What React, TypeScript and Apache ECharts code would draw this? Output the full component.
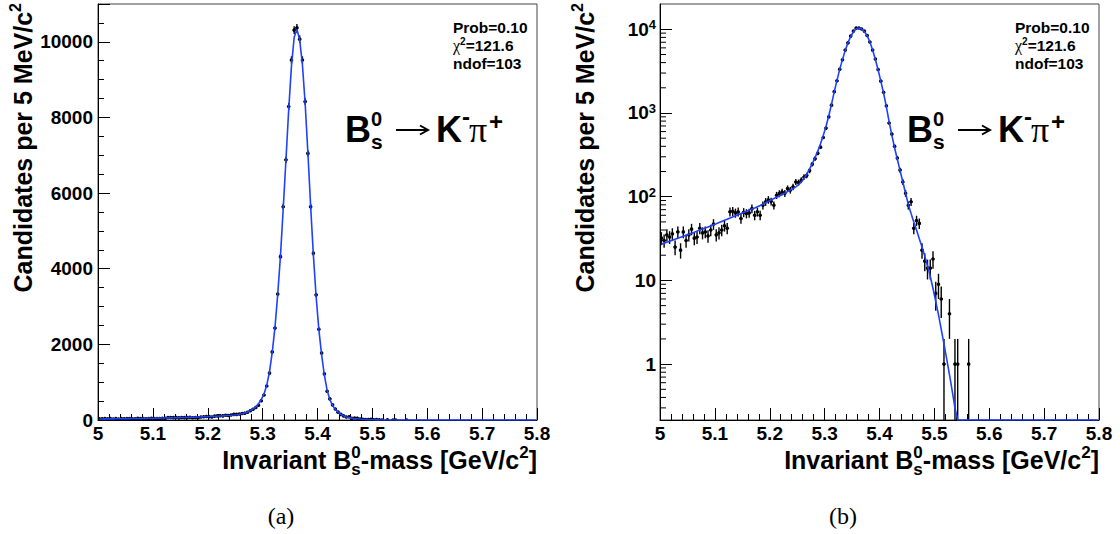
import React, { useEffect, useRef } from "react";
import * as echarts from "echarts";

// ---------- data ----------
const BIN_LOW = 5.0;
const BIN_WIDTH = 0.005;

// candidates per 5 MeV bin, 5.000 .. 5.800 GeV (160 bins)
const COUNTS = [
  32, 30, 35, 33, 36, 25, 38, 23, 38, 30,
  35, 41, 32, 33, 42, 37, 38, 34, 40, 47,
  35, 37, 40, 45, 42, 66, 67, 64, 66, 55,
  65, 63, 64, 72, 60, 66, 60, 79, 87, 92,
  88, 79, 104, 109, 114, 110, 125, 120, 131, 150,
  148, 158, 172, 180, 205, 245, 285, 330, 391, 510,
  660, 900, 1240, 1800, 2430, 3330, 4320, 5640, 6880, 8290,
  9520, 10310, 10370, 10070, 9520, 8420, 7050, 5640, 4410, 3310,
  2400, 1770, 1220, 760, 560, 400, 290, 208, 150, 110,
  79, 87, 42, 52, 48, 23, 17, 14, 14, 18,
  7, 9, 6, 1, 0, 4, 0, 1, 1, 0,
  0, 0, 1, 0, 0, 0, 0, 0, 0, 0,
  0, 0, 0, 0, 0, 0, 0, 0, 0, 0,
  0, 0, 0, 0, 0, 0, 0, 0, 0, 0,
  0, 0, 0, 0, 0, 0, 0, 0, 0, 0,
  0, 0, 0, 0, 0, 0, 0, 0, 0, 0,
];

// fitted function, read at the bin centres
const FIT = [
  27, 27.7, 28.5, 29.3, 30.1, 31, 31.9, 32.8, 33.7, 34.7,
  35.7, 36.7, 37.7, 38.8, 39.9, 41, 42.2, 43.4, 44.8, 46.2,
  47.6, 49.1, 50.7, 52.2, 53.8, 55.5, 57.3, 59.1, 61, 62.9,
  64.9, 66.9, 69, 71.1, 73.3, 75.8, 78.5, 81.5, 84.7, 88,
  91.4, 95, 98.5, 102, 106, 110, 115, 120, 125, 131,
  139, 150, 165, 186, 213, 248, 292, 350, 430, 540,
  690, 920, 1270, 1790, 2450, 3320, 4340, 5580, 6880, 8200,
  9350, 10120, 10330, 10060, 9400, 8370, 7060, 5660, 4360, 3260,
  2390, 1720, 1190, 790, 540, 385, 280, 205, 150, 110,
  81, 63, 50, 40, 31.5, 25, 19.5, 15, 11.2, 8,
  5.6, 3.9, 2.6, 1.75, 1.15, 0.75, 0.48, 0.3, 0.19, 0.12,
  0.07, 0.04, 0, 0, 0, 0, 0, 0, 0, 0,
  0, 0, 0, 0, 0, 0, 0, 0, 0, 0,
  0, 0, 0, 0, 0, 0, 0, 0, 0, 0,
  0, 0, 0, 0, 0, 0, 0, 0, 0, 0,
  0, 0, 0, 0, 0, 0, 0, 0, 0, 0,
];

const X_MIN = 5.0;
const X_MAX = 5.8;
const X_STEP = 0.1;
const LIN_Y_MAX = 11000;
const LIN_Y_STEP = 2000;
const LOG_Y_MIN = 0.215;
const LOG_Y_MAX = 20050;
const LOG_MINOR_TICKS = [
  0.3, 0.4, 0.5, 0.6, 0.7, 0.8, 0.9,
  2, 3, 4, 5, 6, 7, 8, 9,
  20, 30, 40, 50, 60, 70, 80, 90,
  200, 300, 400, 500, 600, 700, 800, 900,
  2000, 3000, 4000, 5000, 6000, 7000, 8000, 9000,
];
const FIT_STATS = ["Prob=0.10", "121.6", "ndof=103"];
const PANEL_TAGS = ["(a)", "(b)"];

// ---------- style ----------
const SANS = '"Liberation Sans", Arial, Helvetica, sans-serif';
const SERIF = '"Liberation Serif", "Times New Roman", serif';
const BLUE = "#1e40ff";
const PANEL_DX = 562;

type Seg = { t: string; size: number; weight?: string; family?: string; dy?: number; stack?: boolean };

let mctx: CanvasRenderingContext2D | null = null;
function measure(t: string, size: number, weight: string, family: string) {
  if (!mctx) mctx = document.createElement("canvas").getContext("2d");
  if (!mctx) return t.length * size * 0.6;
  mctx.font = `${weight} ${size}px ${family}`;
  return mctx.measureText(t).width;
}

function textEl(t: string, x: number, baseline: number, size: number, weight = "bold", family = SANS, align = "left") {
  return {
    type: "text",
    x,
    y: baseline - 0.345 * size,
    silent: true,
    style: { text: t, fontSize: size, fontWeight: weight, fontFamily: family, fill: "#000", align, verticalAlign: "middle" },
  };
}

function lineGroup(segs: Seg[], x: number, y: number, align: "left" | "right", rotation = 0) {
  const placed: { s: Seg; x: number }[] = [];
  let cursor = 0;
  let prevStart = 0;
  let prevW = 0;
  for (const s of segs) {
    const w = measure(s.t, s.size, s.weight || "bold", s.family || SANS);
    if (s.stack) {
      placed.push({ s, x: prevStart });
      prevW = Math.max(prevW, w);
      cursor = prevStart + prevW;
    } else {
      placed.push({ s, x: cursor });
      prevStart = cursor;
      prevW = w;
      cursor += w;
    }
  }
  const off = align === "right" ? -cursor : 0;
  return {
    type: "group",
    x,
    y,
    rotation,
    children: placed.map(({ s, x: px }) => textEl(s.t, px + off, s.dy || 0, s.size, s.weight || "bold", s.family || SANS)),
  };
}

function decayLabel(dx: number) {
  const els: any[] = [
    textEl("B", 345 + dx, 142, 36),
    textEl("s", 371 + dx, 149, 21),
    textEl("0", 371 + dx, 126, 20),
    textEl("K", 436 + dx, 142, 36),
    textEl("-", 462 + dx, 125, 24),
    textEl("\u03c0", 469 + dx, 142, 36, "normal", SERIF),
    textEl("+", 489 + dx, 130, 24),
    { type: "line", silent: true, shape: { x1: 396 + dx, y1: 130, x2: 427 + dx, y2: 130 }, style: { stroke: "#000", lineWidth: 2 } },
    { type: "polyline", silent: true, shape: { points: [[420 + dx, 125.5], [428 + dx, 130], [420 + dx, 134.5]] }, style: { stroke: "#000", lineWidth: 2, fill: null } },
  ];
  return els;
}

function statsBox(dx: number) {
  return [
    lineGroup([{ t: FIT_STATS[0], size: 15.5 }], 453 + dx, 33, "left"),
    lineGroup(
      [
        { t: "\u03c7", size: 16, weight: "normal", family: SERIF },
        { t: "2", size: 10, dy: -6 },
        { t: "=" + FIT_STATS[1], size: 15.5 },
      ],
      453 + dx,
      51,
      "left"
    ),
    lineGroup([{ t: FIT_STATS[2], size: 15.5 }], 453 + dx, 69, "left"),
  ];
}

function titles(dx: number, tag: string) {
  const yTitle = lineGroup(
    [
      { t: "Candidates per 5 MeV/c", size: 25 },
      { t: "2", size: 16, dy: -11 },
    ],
    32 + dx,
    3,
    "right",
    Math.PI / 2
  );
  const xTitle = lineGroup(
    [
      { t: "Invariant B", size: 25 },
      { t: "s", size: 17, dy: 6 },
      { t: "0", size: 17, dy: -11, stack: true },
      { t: "-mass [GeV/c", size: 25 },
      { t: "2", size: 17, dy: -11 },
      { t: "]", size: 25 },
    ],
    537 + dx,
    469,
    "right"
  );
  const tagEl = {
    type: "text",
    x: 281 + dx,
    y: 516,
    silent: true,
    style: { text: tag, fontSize: 24, fontFamily: SERIF, fontWeight: "normal", fill: "#000", align: "center", verticalAlign: "middle" },
  };
  return [yTitle, xTitle, tagEl];
}

const centres = COUNTS.map((_, i) => BIN_LOW + BIN_WIDTH * (i + 0.5));

function pointData(log: boolean) {
  const out: number[][] = [];
  COUNTS.forEach((n, i) => {
    if (n <= 0) return;
    const e = Math.sqrt(n);
    const lo = log ? Math.max(n - e, LOG_Y_MIN) : n - e;
    out.push([centres[i], n, lo, n + e]);
  });
  return out;
}

const pointSeries = (idx: number, log: boolean) => ({
  type: "custom",
  xAxisIndex: idx,
  yAxisIndex: idx,
  clip: true,
  silent: true,
  z: 2,
  data: pointData(log),
  renderItem: (_p: any, api: any) => {
    const x = api.value(0);
    const y = api.value(1);
    const c = api.coord([x, y]);
    const t = api.coord([x, api.value(3)]);
    const b = api.coord([x, api.value(2)]);
    const l = api.coord([x - BIN_WIDTH / 2, y]);
    const r = api.coord([x + BIN_WIDTH / 2, y]);
    return {
      type: "group",
      children: [
        { type: "line", shape: { x1: c[0], y1: t[1], x2: c[0], y2: b[1] }, style: { stroke: "#000", lineWidth: 1.4 } },
        { type: "line", shape: { x1: l[0], y1: c[1], x2: r[0], y2: c[1] }, style: { stroke: "#000", lineWidth: 1.4 } },
        { type: "circle", shape: { cx: c[0], cy: c[1], r: 1.8 }, style: { fill: "#000" } },
      ],
    };
  },
});

const fitSeries = (idx: number, log: boolean) => ({
  type: "line",
  xAxisIndex: idx,
  yAxisIndex: idx,
  silent: true,
  showSymbol: false,
  symbol: "none",
  z: 3,
  lineStyle: { color: BLUE, width: 1.6 },
  data: FIT.map((v, i) => [centres[i], log ? Math.max(v, LOG_Y_MIN) : v]),
});

const labelStyle = { fontFamily: SANS, fontWeight: "bold", fontSize: 19, color: "#000" };

const xAxis = (idx: number) => ({
  type: "value",
  gridIndex: idx,
  min: X_MIN,
  max: X_MAX,
  interval: X_STEP,
  axisLine: { onZero: false, lineStyle: { color: "#000", width: 1 } },
  axisTick: { inside: true, length: 12, lineStyle: { color: "#000", width: 1 } },
  minorTick: { show: true, splitNumber: 5, length: 6, lineStyle: { color: "#000", width: 1 } },
  splitLine: { show: false },
  axisLabel: { ...labelStyle, margin: 4, formatter: (v: number) => String(Math.round(v * 10) / 10) },
});

export default function App() {
  const ref = useRef<HTMLDivElement>(null);
  useEffect(() => {
    if (!ref.current) return;
    const chart = echarts.init(ref.current, null, { renderer: "svg", width: 1120, height: 534 });
    const option: any = {
      animation: false,
      backgroundColor: "#fff",
      grid: [
        { left: 98, top: 4, width: 439, height: 416, show: true, borderColor: "#444", borderWidth: 1, backgroundColor: "transparent" },
        { left: 660, top: 4, width: 439, height: 416, show: true, borderColor: "#444", borderWidth: 1, backgroundColor: "transparent" },
      ],
      xAxis: [xAxis(0), xAxis(1)],
      yAxis: [
        {
          type: "value",
          gridIndex: 0,
          min: 0,
          max: LIN_Y_MAX,
          interval: LIN_Y_STEP,
          axisLine: { show: true, lineStyle: { color: "#000", width: 1 } },
          axisTick: { inside: true, length: 12, lineStyle: { color: "#000" } },
          minorTick: { show: true, splitNumber: 4, length: 6, lineStyle: { color: "#000" } },
          splitLine: { show: false },
          axisLabel: { ...labelStyle, margin: 5, showMaxLabel: false, formatter: (v: number) => String(v) },
        },
        {
          type: "log",
          logBase: 10,
          gridIndex: 1,
          min: LOG_Y_MIN,
          max: LOG_Y_MAX,
          axisLine: { show: true, lineStyle: { color: "#000", width: 1 } },
          axisTick: { inside: true, length: 12, lineStyle: { color: "#000" } },
          minorTick: { show: false },
          splitLine: { show: false },
          axisLabel: {
            ...labelStyle,
            margin: 4,
            lineHeight: 22,
            showMinLabel: false,
            showMaxLabel: false,
            formatter: (v: number) => {
              const e = Math.round(Math.log10(v));
              if (e === 0) return "1";
              if (e === 1) return "10";
              return "10{sup|" + e + "}";
            },
            rich: { sup: { fontFamily: SANS, fontWeight: "bold", fontSize: 13, lineHeight: 12, verticalAlign: "top", color: "#000" } },
          },
        },
      ],
      series: [
        pointSeries(0, false),
        fitSeries(0, false),
        pointSeries(1, true),
        fitSeries(1, true),
        {
          type: "custom",
          xAxisIndex: 1,
          yAxisIndex: 1,
          silent: true,
          z: 1,
          data: LOG_MINOR_TICKS.map((v) => [X_MIN, v]),
          renderItem: (_p: any, api: any) => {
            const p = api.coord([api.value(0), api.value(1)]);
            return { type: "line", shape: { x1: p[0], y1: p[1], x2: p[0] + 6, y2: p[1] }, style: { stroke: "#000", lineWidth: 1 } };
          },
        },
      ],
      graphic: [
        ...titles(0, PANEL_TAGS[0]),
        ...titles(PANEL_DX, PANEL_TAGS[1]),
        ...statsBox(0),
        ...statsBox(PANEL_DX),
        ...decayLabel(0),
        ...decayLabel(PANEL_DX),
      ],
    };
    chart.setOption(option);
    return () => chart.dispose();
  }, []);
  return <div ref={ref} style={{ position: "absolute", left: 0, top: 0, width: 1120, height: 534, background: "#fff" }} />;
}
